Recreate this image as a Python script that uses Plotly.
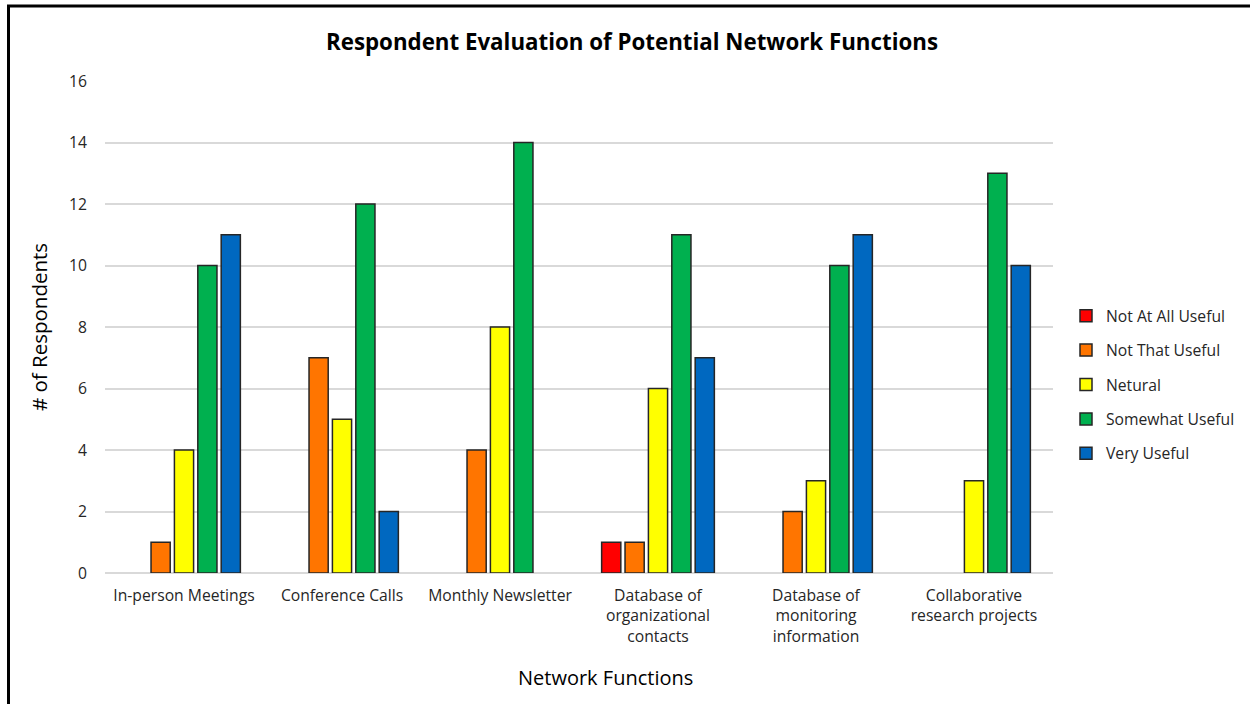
import plotly.graph_objects as go

categories = [
    "In-person Meetings",
    "Conference Calls",
    "Monthly Newsletter",
    "Database of<br>organizational<br>contacts",
    "Database of<br>monitoring<br>information",
    "Collaborative<br>research projects",
]
series_names = ["Not At All Useful", "Not That Useful", "Netural", "Somewhat Useful", "Very Useful"]
not_at_all = [0, 0, 0, 1, 0, 0]
not_that = [1, 7, 4, 1, 2, 0]
neutral = [4, 5, 8, 6, 3, 3]
somewhat = [10, 12, 14, 11, 10, 13]
very = [11, 2, 0, 7, 11, 10]
colors = ["#ff0000", "#ff7500", "#ffff00", "#00b04f", "#0068c0"]
y_ticks = [0, 2, 4, 6, 8, 10, 12, 14, 16]

FONT = "'Open Sans', Lato, sans-serif"

fig = go.Figure()
for i, (name, vals) in enumerate(zip(series_names, [not_at_all, not_that, neutral, somewhat, very])):
    fig.add_trace(go.Bar(
        x=categories, y=[v if v else None for v in vals], name=name, legendgroup=name,
        marker=dict(color=colors[i], line=dict(color="#262626", width=1.5)),
    ))

L, R, T, B = 105, 197, 81, 131
W, H = 1250, 704
pw, ph = W - L - R, H - T - B

def px_x(px):
    return (px - L) / pw

def px_y(py):
    return (H - B - py) / ph

fig.update_layout(
    width=W, height=H,
    margin=dict(l=L, r=R, t=T, b=B, autoexpand=False),
    paper_bgcolor="white", plot_bgcolor="white",
    font=dict(family=FONT, color="#262626", size=15.7),
    title=dict(text="<b>Respondent Evaluation of Potential Network Functions</b>",
               x=632 / W, xref="container", xanchor="center",
               y=1 - 42 / H, yref="container", yanchor="middle",
               font=dict(size=22.3, color="#000000", family=FONT)),
    barmode="group", bargap=0.26, bargroupgap=0.18,
    showlegend=True,
    legend=dict(x=px_x(1066), xanchor="left", y=px_y(385), yanchor="middle",
                font=dict(size=15.7, color="#262626"), tracegroupgap=11,
                traceorder="grouped", itemwidth=30, bgcolor="rgba(0,0,0,0)"),
    xaxis=dict(showgrid=False, showline=False, ticks="", ticklabelstandoff=11,
               tickfont=dict(size=15.7, color="#262626")),
    yaxis=dict(range=[0, 16], tickvals=y_ticks, showgrid=True, gridcolor="#d9d9d9", gridwidth=1.5,
               zeroline=True, zerolinecolor="#d9d9d9", zerolinewidth=1.5,
               showline=False, ticks="", ticklabelstandoff=17,
               tickfont=dict(size=15.7, color="#262626"),
               title=dict(text="# of Respondents", font=dict(size=20.5, color="#000000"), standoff=15)),
    annotations=[
        dict(text="Network Functions", xref="paper", yref="paper",
             x=px_x(605), y=px_y(677), xanchor="center", yanchor="middle",
             showarrow=False, font=dict(size=20, color="#000000", family=FONT)),
    ],
    shapes=[
        dict(type="line", xref="paper", yref="paper", x0=px_x(8.5), x1=px_x(8.5),
             y0=px_y(5), y1=px_y(720), line=dict(color="#000000", width=3)),
        dict(type="line", xref="paper", yref="paper", x0=px_x(7), x1=px_x(1270),
             y0=px_y(6), y1=px_y(6), line=dict(color="#000000", width=3)),
    ],
)

fig.write_html("out.html", config={"displayModeBar": False},
               post_script="document.body.style.margin='0';")
